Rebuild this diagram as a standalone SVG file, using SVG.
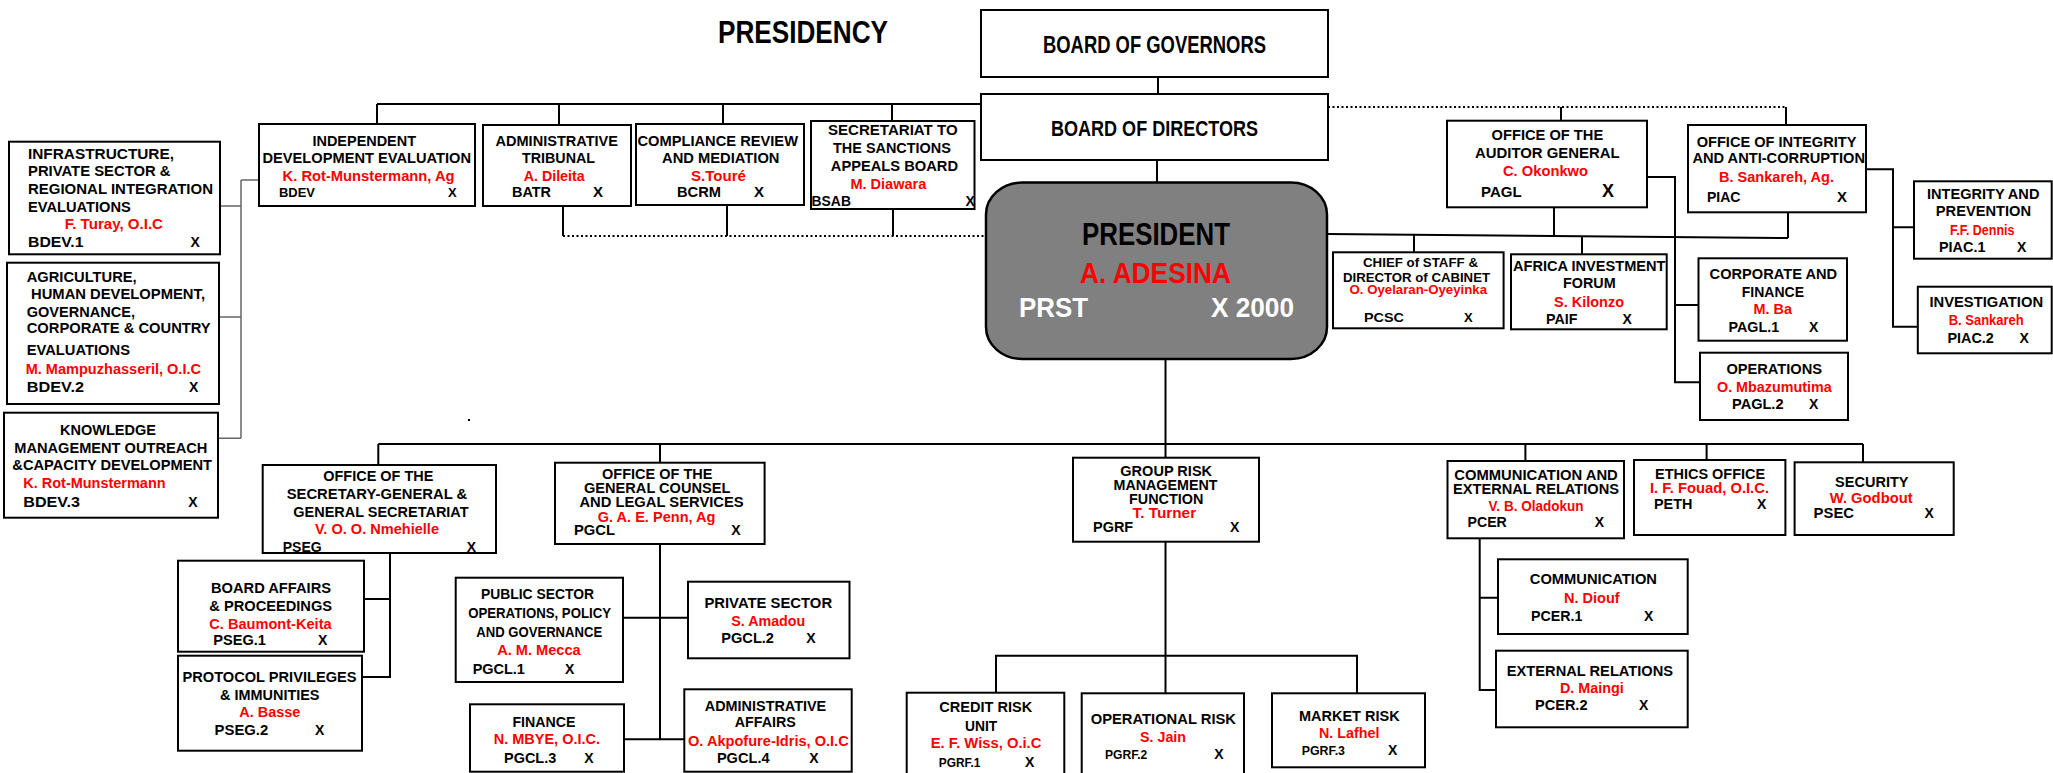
<svg xmlns="http://www.w3.org/2000/svg" width="2053" height="773" viewBox="0 0 2053 773">
<style>
text{font-family:"Liberation Sans",Arial,Helvetica,sans-serif;font-weight:bold;fill:#000}
.bx{fill:#fff;stroke:#000;stroke-width:2}
.pr{fill:#808080;stroke:#000;stroke-width:2.5}
.r{fill:#f00}
.w{fill:#fff}
.s13{font-size:13px}.s14{font-size:14px}.s15{font-size:15px}
#connectors line,#connectors path{stroke:#000;stroke-width:2;fill:none}
#connectors .dot{stroke-dasharray:2 2.5}
#connectors .gr{stroke:#666;stroke-width:1.5}
</style>
<rect width="2053" height="773" fill="#fff"/>
<text x="718" y="43" font-size="32" textLength="170" lengthAdjust="spacingAndGlyphs">PRESIDENCY</text>
<rect x="468" y="419" width="2" height="2" fill="#000"/>

<g id="connectors">
<line x1="377" y1="104" x2="981" y2="104"/>
<line x1="377" y1="104" x2="377" y2="124"/>
<line x1="559" y1="104" x2="559" y2="125"/>
<line x1="723" y1="104" x2="723" y2="124"/>
<line x1="892" y1="104" x2="892" y2="121"/>
<line x1="1158" y1="77" x2="1158" y2="94"/>
<line x1="1157" y1="160" x2="1157" y2="182"/>
<line class="dot" x1="563" y1="236" x2="986" y2="236"/>
<line x1="563" y1="206" x2="563" y2="236"/>
<line x1="727" y1="205" x2="727" y2="236"/>
<line x1="893" y1="209" x2="893" y2="236"/>
<line class="dot" x1="1328" y1="107" x2="1786" y2="107"/>
<line x1="1561" y1="107" x2="1561" y2="121"/>
<line x1="1786" y1="107" x2="1786" y2="125"/>
<line x1="1327" y1="234" x2="1788" y2="238"/>
<line x1="1788" y1="212" x2="1788" y2="238"/>
<line x1="1554" y1="207" x2="1554" y2="237"/>
<line x1="1414" y1="235" x2="1414" y2="252"/>
<line x1="1582" y1="236" x2="1582" y2="254"/>
<path d="M1647 177H1675V382.3H1700M1675 305H1698.5"/>
<path d="M1866 169.3H1893V326.7H1918M1893 227.3H1914"/>
<path class="gr" d="M220 206H241M241 180V438.3M241 180H259M218 317H241M218 438.3H241"/>
<line x1="1165.5" y1="359" x2="1165.5" y2="457.7"/>
<line x1="378.3" y1="444" x2="1863" y2="444"/>
<line x1="378.3" y1="444" x2="378.3" y2="465"/>
<line x1="660" y1="444" x2="660" y2="462.7"/>
<path d="M390 553V677H362M364 599H390"/>
<path d="M660 544V739.3H684.3M624 739.3H660M623 617.7H688"/>
<line x1="1165.5" y1="541.7" x2="1165.5" y2="693.3"/>
<path d="M996 692.7V655.7H1357V693.3"/>
<line x1="1525.4" y1="444" x2="1525.4" y2="461"/>
<line x1="1706.6" y1="444" x2="1706.6" y2="460"/>
<line x1="1863" y1="444" x2="1863" y2="462.3"/>
<path d="M1479.7 538.3V690H1496M1479.7 597.7H1498"/>
</g>

<g id="board-of-governors">
<rect class="bx" x="981" y="10" width="347" height="67"/>
<text x="1043" y="53" font-size="23" textLength="223" lengthAdjust="spacingAndGlyphs">BOARD  OF GOVERNORS</text>
</g>
<g id="board-of-directors">
<rect class="bx" x="981" y="94" width="347" height="66"/>
<text x="1051" y="136" font-size="22" textLength="207" lengthAdjust="spacingAndGlyphs">BOARD OF DIRECTORS</text>
</g>
<g id="president">
<rect class="pr" x="986" y="182.5" width="341" height="176.5" rx="36" ry="32"/>
<text x="1082" y="245" font-size="31" textLength="148" lengthAdjust="spacingAndGlyphs">PRESIDENT</text>
<text class="r" x="1080" y="283" font-size="29" textLength="151" lengthAdjust="spacingAndGlyphs">A. ADESINA</text>
<text class="w" x="1019" y="317" font-size="28" textLength="69" lengthAdjust="spacingAndGlyphs">PRST</text>
<text class="w" x="1211" y="317" font-size="28" textLength="83" lengthAdjust="spacingAndGlyphs">X 2000</text>
</g>

<g id="bdev" class="s15">
<rect class="bx" x="259" y="124" width="216" height="82"/>
<text x="312.5" y="146" textLength="103.5" lengthAdjust="spacingAndGlyphs">INDEPENDENT</text>
<text x="262.5" y="163" textLength="208.5" lengthAdjust="spacingAndGlyphs">DEVELOPMENT EVALUATION</text>
<text class="r" x="282.6" y="181" textLength="172" lengthAdjust="spacingAndGlyphs">K. Rot-Munstermann,  Ag</text>
<text x="279" y="197" font-size="13" textLength="36" lengthAdjust="spacingAndGlyphs">BDEV</text>
<text x="448" y="197" font-size="13">X</text>
</g>
<g id="batr" class="s15">
<rect class="bx" x="483" y="125" width="148" height="81"/>
<text x="495.5" y="146" textLength="122.5" lengthAdjust="spacingAndGlyphs">ADMINISTRATIVE</text>
<text x="522" y="163" textLength="73" lengthAdjust="spacingAndGlyphs">TRIBUNAL</text>
<text class="r" x="523.7" y="181" textLength="61" lengthAdjust="spacingAndGlyphs">A. Dileita</text>
<text x="512" y="197" textLength="39" lengthAdjust="spacingAndGlyphs">BATR</text>
<text x="593" y="197">X</text>
</g>
<g id="bcrm" class="s15">
<rect class="bx" x="636" y="124" width="168" height="81"/>
<text x="637.5" y="146" textLength="160.5" lengthAdjust="spacingAndGlyphs">COMPLIANCE REVIEW</text>
<text x="662" y="163" textLength="117.5" lengthAdjust="spacingAndGlyphs">AND MEDIATION</text>
<text class="r" x="691" y="181" textLength="55" lengthAdjust="spacingAndGlyphs">S.Touré</text>
<text x="677" y="197" textLength="44" lengthAdjust="spacingAndGlyphs">BCRM</text>
<text x="754" y="197">X</text>
</g>
<g id="bsab" class="s14">
<rect class="bx" x="811" y="121" width="163.5" height="88"/>
<text x="828" y="135" textLength="129.6" lengthAdjust="spacingAndGlyphs">SECRETARIAT TO</text>
<text x="833" y="152.7" textLength="117.9" lengthAdjust="spacingAndGlyphs">THE SANCTIONS</text>
<text x="830.8" y="170.7" textLength="127.2" lengthAdjust="spacingAndGlyphs">APPEALS BOARD</text>
<text class="r" x="850.4" y="188.7" textLength="75.9" lengthAdjust="spacingAndGlyphs">M. Diawara</text>
<text x="811.6" y="205.7" textLength="39.3" lengthAdjust="spacingAndGlyphs">BSAB</text>
<text x="965.6" y="206">X</text>
</g>

<g id="bdev1" class="s14">
<rect class="bx" x="9" y="141.7" width="211" height="112.6"/>
<text x="28" y="159" textLength="146" lengthAdjust="spacingAndGlyphs">INFRASTRUCTURE,</text>
<text x="28" y="176" textLength="142.5" lengthAdjust="spacingAndGlyphs">PRIVATE SECTOR &amp;</text>
<text x="28" y="194" textLength="185" lengthAdjust="spacingAndGlyphs">REGIONAL  INTEGRATION</text>
<text x="28" y="212" textLength="102.8" lengthAdjust="spacingAndGlyphs">EVALUATIONS</text>
<text class="r" x="64.7" y="229" textLength="98.3" lengthAdjust="spacingAndGlyphs">F. Turay, O.I.C</text>
<text x="28" y="247" textLength="55.5" lengthAdjust="spacingAndGlyphs">BDEV.1</text>
<text x="190.6" y="247">X</text>
</g>
<g id="bdev2" class="s14">
<rect class="bx" x="7" y="262.7" width="212" height="141.3"/>
<text x="26.7" y="281.7" textLength="110" lengthAdjust="spacingAndGlyphs">AGRICULTURE,</text>
<text x="31" y="299" textLength="174" lengthAdjust="spacingAndGlyphs">HUMAN DEVELOPMENT,</text>
<text x="26.7" y="316.7" textLength="108.3" lengthAdjust="spacingAndGlyphs">GOVERNANCE,</text>
<text x="26.7" y="333.3" textLength="184" lengthAdjust="spacingAndGlyphs">CORPORATE &amp; COUNTRY</text>
<text x="26.7" y="355.3" textLength="103.3" lengthAdjust="spacingAndGlyphs">EVALUATIONS</text>
<text class="r" x="25.7" y="374" textLength="175.3" lengthAdjust="spacingAndGlyphs">M. Mampuzhasseril, O.I.C</text>
<text x="26.7" y="392.3" textLength="57.3" lengthAdjust="spacingAndGlyphs">BDEV.2</text>
<text x="189" y="392.3">X</text>
</g>
<g id="bdev3" class="s14">
<rect class="bx" x="4" y="412.7" width="214" height="105"/>
<text x="60" y="435" textLength="96" lengthAdjust="spacingAndGlyphs">KNOWLEDGE</text>
<text x="14.3" y="452.7" textLength="193" lengthAdjust="spacingAndGlyphs">MANAGEMENT  OUTREACH</text>
<text x="12.3" y="470" textLength="199.7" lengthAdjust="spacingAndGlyphs">&amp;CAPACITY  DEVELOPMENT</text>
<text class="r" x="23.3" y="487.7" textLength="142.3" lengthAdjust="spacingAndGlyphs">K. Rot-Munstermann</text>
<text x="23.3" y="506.7" textLength="56.7" lengthAdjust="spacingAndGlyphs">BDEV.3</text>
<text x="188.3" y="506.7">X</text>
</g>

<g id="pagl" class="s15">
<rect class="bx" x="1447" y="120.7" width="200" height="86.6"/>
<text x="1491.6" y="140" textLength="111.6" lengthAdjust="spacingAndGlyphs">OFFICE OF THE</text>
<text x="1475" y="158.3" textLength="144.5" lengthAdjust="spacingAndGlyphs">AUDITOR  GENERAL</text>
<text class="r" x="1503" y="176" textLength="85" lengthAdjust="spacingAndGlyphs">C. Okonkwo</text>
<text x="1481" y="196.7" textLength="40.6" lengthAdjust="spacingAndGlyphs">PAGL</text>
<text x="1602" y="196.7" font-size="18">X</text>
</g>
<g id="piac" class="s15">
<rect class="bx" x="1688" y="125" width="178" height="87.3"/>
<text x="1696.7" y="146.7" textLength="159.7" lengthAdjust="spacingAndGlyphs">OFFICE OF INTEGRITY</text>
<text x="1692.4" y="163.3" textLength="172.6" lengthAdjust="spacingAndGlyphs">AND ANTI-CORRUPTION</text>
<text class="r" x="1719" y="181.7" textLength="115" lengthAdjust="spacingAndGlyphs">B. Sankareh, Ag.</text>
<text x="1707" y="201.7" textLength="33.5" lengthAdjust="spacingAndGlyphs">PIAC</text>
<text x="1837" y="201.7">X</text>
</g>
<g id="pcsc" class="s13">
<rect class="bx" x="1333" y="252.3" width="170.6" height="76"/>
<text x="1363" y="267.3" textLength="115" lengthAdjust="spacingAndGlyphs">CHIEF of STAFF &amp;</text>
<text x="1343" y="281.7" textLength="147" lengthAdjust="spacingAndGlyphs">DIRECTOR of CABINET</text>
<text class="r" x="1349.5" y="294.3" textLength="137.5" lengthAdjust="spacingAndGlyphs">O. Oyelaran-Oyeyinka</text>
<text x="1364" y="322.3" textLength="40" lengthAdjust="spacingAndGlyphs">PCSC</text>
<text x="1464" y="322.3">X</text>
</g>
<g id="paif" class="s14">
<rect class="bx" x="1511" y="254.3" width="155.7" height="75"/>
<text x="1513" y="270.7" textLength="152.4" lengthAdjust="spacingAndGlyphs">AFRICA INVESTMENT</text>
<text x="1563" y="288.3" textLength="52.6" lengthAdjust="spacingAndGlyphs">FORUM</text>
<text class="r" x="1554" y="306.7" textLength="70" lengthAdjust="spacingAndGlyphs">S. Kilonzo</text>
<text x="1546" y="324.3" textLength="31.4" lengthAdjust="spacingAndGlyphs">PAIF</text>
<text x="1622.5" y="324.3">X</text>
</g>
<g id="pagl1" class="s14">
<rect class="bx" x="1698.5" y="258.3" width="148.5" height="82.4"/>
<text x="1709.6" y="279" textLength="127.5" lengthAdjust="spacingAndGlyphs">CORPORATE AND</text>
<text x="1741.8" y="296.7" textLength="62.2" lengthAdjust="spacingAndGlyphs">FINANCE</text>
<text class="r" x="1753.4" y="314" textLength="38.6" lengthAdjust="spacingAndGlyphs">M. Ba</text>
<text x="1728.5" y="331.7" textLength="50.6" lengthAdjust="spacingAndGlyphs">PAGL.1</text>
<text x="1809" y="331.7">X</text>
</g>
<g id="pagl2" class="s14">
<rect class="bx" x="1700" y="352.7" width="148" height="67.3"/>
<text x="1726.4" y="374" textLength="95.7" lengthAdjust="spacingAndGlyphs">OPERATIONS</text>
<text class="r" x="1717" y="391.7" textLength="114.6" lengthAdjust="spacingAndGlyphs">O. Mbazumutima</text>
<text x="1732" y="409.3" textLength="51.5" lengthAdjust="spacingAndGlyphs">PAGL.2</text>
<text x="1809" y="409.3">X</text>
</g>
<g id="piac1" class="s14">
<rect class="bx" x="1914" y="181.3" width="137.7" height="77.4"/>
<text x="1927" y="199" textLength="112.4" lengthAdjust="spacingAndGlyphs">INTEGRITY AND</text>
<text x="1935.8" y="216" textLength="95.3" lengthAdjust="spacingAndGlyphs">PREVENTION</text>
<text class="r" x="1950" y="235" textLength="64.4" lengthAdjust="spacingAndGlyphs">F.F. Dennis</text>
<text x="1939" y="252.3" textLength="46.4" lengthAdjust="spacingAndGlyphs">PIAC.1</text>
<text x="2017" y="252.3">X</text>
</g>
<g id="piac2" class="s14">
<rect class="bx" x="1917.8" y="286.7" width="133.9" height="66.6"/>
<text x="1929.4" y="306.7" textLength="113.7" lengthAdjust="spacingAndGlyphs">INVESTIGATION</text>
<text class="r" x="1948.7" y="325" textLength="75.1" lengthAdjust="spacingAndGlyphs">B. Sankareh</text>
<text x="1947.4" y="343.3" textLength="46.4" lengthAdjust="spacingAndGlyphs">PIAC.2</text>
<text x="2019.5" y="343.3">X</text>
</g>

<g id="pseg" class="s14">
<rect class="bx" x="262.7" y="465" width="233.3" height="88"/>
<text x="323.3" y="480.7" textLength="110" lengthAdjust="spacingAndGlyphs">OFFICE OF THE</text>
<text x="286.7" y="498.7" textLength="180.6" lengthAdjust="spacingAndGlyphs">SECRETARY-GENERAL &amp;</text>
<text x="293.3" y="516.7" textLength="175.3" lengthAdjust="spacingAndGlyphs">GENERAL SECRETARIAT</text>
<text class="r" x="315" y="534" textLength="124" lengthAdjust="spacingAndGlyphs">V. O. O. Nmehielle</text>
<text x="282.7" y="551.7" textLength="39" lengthAdjust="spacingAndGlyphs">PSEG</text>
<text x="466.7" y="551.7">X</text>
</g>
<g id="pseg1" class="s14">
<rect class="bx" x="178" y="560.7" width="186" height="91"/>
<text x="211" y="592.7" textLength="120" lengthAdjust="spacingAndGlyphs">BOARD AFFAIRS</text>
<text x="209.3" y="610.7" textLength="122.8" lengthAdjust="spacingAndGlyphs">&amp; PROCEEDINGS</text>
<text class="r" x="209.3" y="628.7" textLength="122.3" lengthAdjust="spacingAndGlyphs">C. Baumont-Keita</text>
<text x="213.3" y="645.3" textLength="52.7" lengthAdjust="spacingAndGlyphs">PSEG.1</text>
<text x="318" y="645.3">X</text>
</g>
<g id="pseg2" class="s14">
<rect class="bx" x="178" y="655.7" width="184" height="95"/>
<text x="182.5" y="682" textLength="174" lengthAdjust="spacingAndGlyphs">PROTOCOL PRIVILEGES</text>
<text x="220" y="700" textLength="99.5" lengthAdjust="spacingAndGlyphs">&amp; IMMUNITIES</text>
<text class="r" x="239.2" y="717.3" textLength="61.2" lengthAdjust="spacingAndGlyphs">A. Basse</text>
<text x="214.6" y="735" textLength="53.6" lengthAdjust="spacingAndGlyphs">PSEG.2</text>
<text x="315" y="735">X</text>
</g>
<g id="pgcl" class="s14">
<rect class="bx" x="555" y="462.7" width="209.6" height="81.3"/>
<text x="602" y="479.3" textLength="110.4" lengthAdjust="spacingAndGlyphs">OFFICE OF THE</text>
<text x="584" y="493.3" textLength="146.4" lengthAdjust="spacingAndGlyphs">GENERAL COUNSEL</text>
<text x="579.4" y="507.3" textLength="164.3" lengthAdjust="spacingAndGlyphs">AND LEGAL SERVICES</text>
<text class="r" x="597.7" y="521.7" textLength="117.8" lengthAdjust="spacingAndGlyphs">G. A. E. Penn, Ag</text>
<text x="574" y="535" textLength="41" lengthAdjust="spacingAndGlyphs">PGCL</text>
<text x="731.3" y="535">X</text>
</g>
<g id="pgcl1" class="s14">
<rect class="bx" x="455.7" y="577.7" width="167.3" height="104.3"/>
<text x="481" y="599.3" textLength="113" lengthAdjust="spacingAndGlyphs">PUBLIC SECTOR</text>
<text x="468.2" y="617.7" textLength="142.8" lengthAdjust="spacingAndGlyphs">OPERATIONS, POLICY</text>
<text x="476.3" y="636.7" textLength="125.9" lengthAdjust="spacingAndGlyphs">AND GOVERNANCE</text>
<text class="r" x="497.2" y="655" textLength="83.5" lengthAdjust="spacingAndGlyphs">A. M. Mecca</text>
<text x="472.7" y="674" textLength="52.2" lengthAdjust="spacingAndGlyphs">PGCL.1</text>
<text x="565" y="674">X</text>
</g>
<g id="pgcl2" class="s14">
<rect class="bx" x="688" y="581.7" width="161.5" height="76.6"/>
<text x="704.4" y="608.3" textLength="127.7" lengthAdjust="spacingAndGlyphs">PRIVATE SECTOR</text>
<text class="r" x="731.2" y="626" textLength="74.1" lengthAdjust="spacingAndGlyphs">S. Amadou</text>
<text x="721.3" y="643.3" textLength="52.7" lengthAdjust="spacingAndGlyphs">PGCL.2</text>
<text x="806.2" y="643.3">X</text>
</g>
<g id="pgcl3" class="s14">
<rect class="bx" x="470" y="704.3" width="154" height="67.4"/>
<text x="512.4" y="726.7" textLength="63" lengthAdjust="spacingAndGlyphs">FINANCE</text>
<text class="r" x="493.7" y="744.3" textLength="106.3" lengthAdjust="spacingAndGlyphs">N. MBYE, O.I.C.</text>
<text x="504" y="763.3" textLength="52.2" lengthAdjust="spacingAndGlyphs">PGCL.3</text>
<text x="584.3" y="763.3">X</text>
</g>
<g id="pgcl4" class="s14">
<rect class="bx" x="684.3" y="689.3" width="167.4" height="82.4"/>
<text x="704.8" y="710.7" textLength="121.4" lengthAdjust="spacingAndGlyphs">ADMINISTRATIVE</text>
<text x="734.7" y="727.3" textLength="61.2" lengthAdjust="spacingAndGlyphs">AFFAIRS</text>
<text class="r" x="688" y="745.7" textLength="160.7" lengthAdjust="spacingAndGlyphs">O. Akpofure-Idris, O.I.C</text>
<text x="716.9" y="763.3" textLength="52.7" lengthAdjust="spacingAndGlyphs">PGCL.4</text>
<text x="809.3" y="763.3">X</text>
</g>

<g id="pgrf" class="s14">
<rect class="bx" x="1073" y="457.7" width="186" height="84"/>
<text x="1120.3" y="475.7" textLength="91.8" lengthAdjust="spacingAndGlyphs">GROUP RISK</text>
<text x="1113.5" y="490" textLength="104" lengthAdjust="spacingAndGlyphs">MANAGEMENT</text>
<text x="1129" y="504" textLength="74.3" lengthAdjust="spacingAndGlyphs">FUNCTION</text>
<text class="r" x="1132.6" y="517.7" textLength="63.5" lengthAdjust="spacingAndGlyphs">T. Turner</text>
<text x="1093" y="531.7" textLength="40.2" lengthAdjust="spacingAndGlyphs">PGRF</text>
<text x="1230" y="531.7">X</text>
</g>
<g id="pgrf1" class="s14">
<rect class="bx" x="906.7" y="692.7" width="157.6" height="90"/>
<text x="939.3" y="712.3" textLength="93" lengthAdjust="spacingAndGlyphs">CREDIT RISK</text>
<text x="965" y="730.7" textLength="32.3" lengthAdjust="spacingAndGlyphs">UNIT</text>
<text class="r" x="930.7" y="747.7" textLength="110.7" lengthAdjust="spacingAndGlyphs">E. F. Wiss, O.i.C</text>
<text x="938.7" y="766.7" font-size="13" textLength="41.7" lengthAdjust="spacingAndGlyphs">PGRF.1</text>
<text x="1025" y="766.7">X</text>
</g>
<g id="pgrf2" class="s14">
<rect class="bx" x="1081.7" y="693.3" width="162.3" height="90"/>
<text x="1090.7" y="724.3" textLength="145.3" lengthAdjust="spacingAndGlyphs">OPERATIONAL  RISK</text>
<text class="r" x="1140" y="742" textLength="46" lengthAdjust="spacingAndGlyphs">S. Jain</text>
<text x="1105" y="759.3" font-size="13" textLength="42.3" lengthAdjust="spacingAndGlyphs">PGRF.2</text>
<text x="1214.3" y="759.3">X</text>
</g>
<g id="pgrf3" class="s14">
<rect class="bx" x="1272" y="693.3" width="153" height="74"/>
<text x="1299" y="720.7" textLength="100.6" lengthAdjust="spacingAndGlyphs">MARKET RISK</text>
<text class="r" x="1319" y="738.3" textLength="60.4" lengthAdjust="spacingAndGlyphs">N. Lafhel</text>
<text x="1301.7" y="755" font-size="13" textLength="43.3" lengthAdjust="spacingAndGlyphs">PGRF.3</text>
<text x="1388" y="755">X</text>
</g>

<g id="pcer" class="s14">
<rect class="bx" x="1447.5" y="461" width="176.5" height="77.3"/>
<text x="1454.3" y="480" textLength="163.5" lengthAdjust="spacingAndGlyphs">COMMUNICATION  AND</text>
<text x="1453" y="494.3" textLength="166" lengthAdjust="spacingAndGlyphs">EXTERNAL RELATIONS</text>
<text class="r" x="1488.6" y="510.7" textLength="94.9" lengthAdjust="spacingAndGlyphs">V. B. Oladokun</text>
<text x="1467.6" y="526.7" textLength="39.2" lengthAdjust="spacingAndGlyphs">PCER</text>
<text x="1594.8" y="526.7">X</text>
</g>
<g id="peth" class="s14">
<rect class="bx" x="1634" y="460" width="151.4" height="75"/>
<text x="1655" y="479" textLength="110.2" lengthAdjust="spacingAndGlyphs">ETHICS OFFICE</text>
<text class="r" x="1650" y="492.7" textLength="119" lengthAdjust="spacingAndGlyphs">I. F. Fouad, O.I.C.</text>
<text x="1654" y="509.3" textLength="38.4" lengthAdjust="spacingAndGlyphs">PETH</text>
<text x="1757" y="509.3">X</text>
</g>
<g id="psec" class="s14">
<rect class="bx" x="1794.6" y="462.3" width="159.1" height="72.7"/>
<text x="1835" y="486.7" textLength="73.5" lengthAdjust="spacingAndGlyphs">SECURITY</text>
<text class="r" x="1829.8" y="503.3" textLength="82.8" lengthAdjust="spacingAndGlyphs">W. Godbout</text>
<text x="1813.6" y="518.3" textLength="40.4" lengthAdjust="spacingAndGlyphs">PSEC</text>
<text x="1924.6" y="518.3">X</text>
</g>
<g id="pcer1" class="s14">
<rect class="bx" x="1498" y="559.3" width="189.7" height="74.7"/>
<text x="1529.8" y="584" textLength="127.2" lengthAdjust="spacingAndGlyphs">COMMUNICATION</text>
<text class="r" x="1564" y="602.7" textLength="55.7" lengthAdjust="spacingAndGlyphs">N. Diouf</text>
<text x="1531" y="620.7" textLength="51.3" lengthAdjust="spacingAndGlyphs">PCER.1</text>
<text x="1644" y="620.7">X</text>
</g>
<g id="pcer2" class="s14">
<rect class="bx" x="1496" y="650.7" width="191.7" height="76.6"/>
<text x="1506.8" y="675.7" textLength="166.3" lengthAdjust="spacingAndGlyphs">EXTERNAL RELATIONS</text>
<text class="r" x="1560" y="693.3" textLength="63.8" lengthAdjust="spacingAndGlyphs">D. Maingi</text>
<text x="1535" y="710" textLength="52.5" lengthAdjust="spacingAndGlyphs">PCER.2</text>
<text x="1639" y="710">X</text>
</g>
</svg>
